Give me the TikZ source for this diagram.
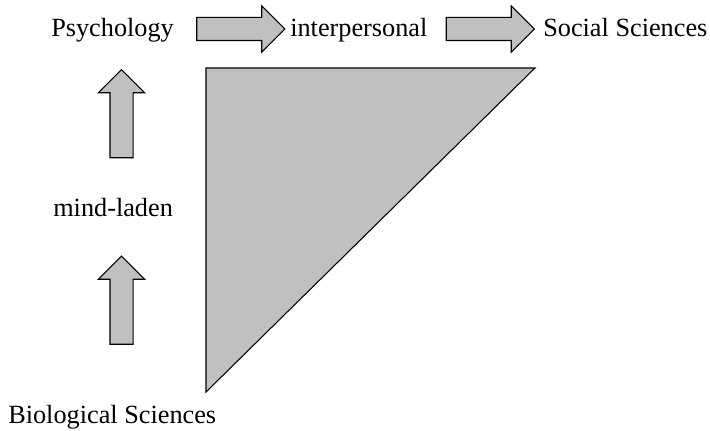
\documentclass[tikz,border=0pt]{standalone}
\usepackage{fontspec}
\setmainfont{Liberation Serif}
\usetikzlibrary{shapes.arrows}
\definecolor{panelgray}{RGB}{192,192,192}
\begin{document}
\begin{tikzpicture}[x=0.75pt,y=-0.75pt,
  label/.style={anchor=base west, inner sep=0pt, font=\fontsize{19.7}{22}\selectfont},
  blockarrow/.style={single arrow, draw, fill=panelgray, line width=0.8pt,
    inner sep=8.25pt, single arrow head extend=8.6pt, minimum height=66pt, outer sep=0pt}]
\useasboundingbox (0,0) rectangle (710,431);
% top row
\node[label] (psy) at (51,37) {Psychology};
\node[label] (inter) at (290,37) {interpersonal};
\node[label] (soc) at (543,37) {Social Sciences};
\node[blockarrow] (arr1) at (235,29) {};
\node[blockarrow] (arr2) at (484.5,29) {};
% left column
\node[label] (mind) at (53,216) {mind-laden};
\node[label] (bio) at (8,423) {Biological Sciences};
\node[blockarrow, rotate=90] (arr3) at (121.5,119.5) {};
\node[blockarrow, rotate=90] (arr4) at (121.5,306) {};
% wedge
\coordinate (tl) at (206,68);
\coordinate (tr) at (535,68);
\coordinate (bl) at (206,392);
\draw[fill=panelgray, line width=0.8pt] (tl) -- (tr) -- (bl) -- cycle;
\end{tikzpicture}
\end{document}
